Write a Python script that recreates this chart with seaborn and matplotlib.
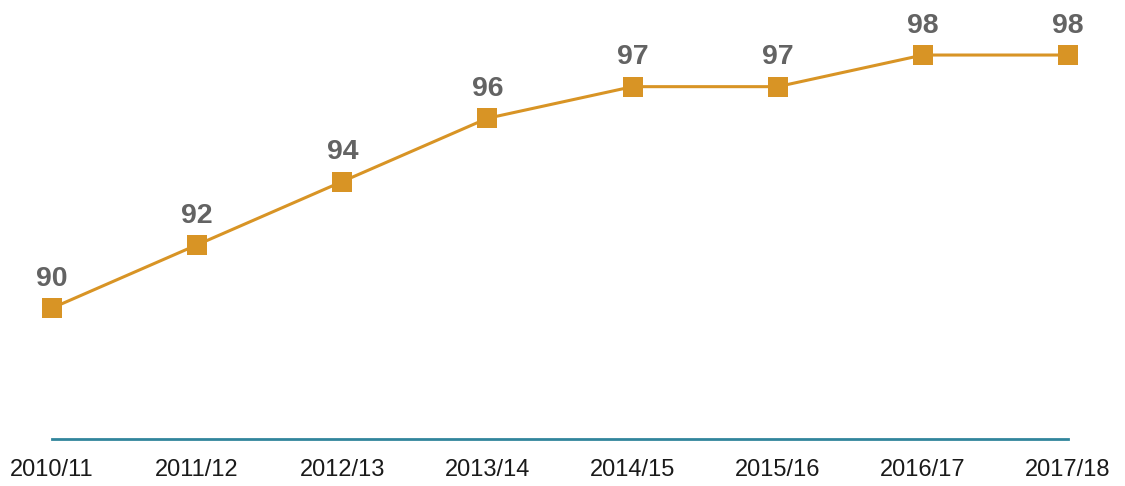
import pandas as pd
import seaborn as sns
import matplotlib.pyplot as plt

# data
seasons = ["2010/11", "2011/12", "2012/13", "2013/14",
           "2014/15", "2015/16", "2016/17", "2017/18"]
values = [90, 92, 94, 96, 97, 97, 98, 98]

df = pd.DataFrame({"season": seasons, "value": values})
df["pos"] = range(len(seasons))

sns.set_style("white")
plt.rcParams["font.family"] = ["Liberation Sans", "DejaVu Sans"]

fig = plt.figure(figsize=(11.25, 4.86), dpi=100)
ax = fig.add_axes([52 / 1125, 47 / 486, (1068 - 52) / 1125, 439 / 486])

sns.lineplot(data=df, x="pos", y="value", ax=ax, color="#D89425",
             linewidth=2.2, marker="s", markersize=14,
             markeredgewidth=0, clip_on=False)

for _, r in df.iterrows():
    ax.annotate(str(r["value"]), (r["pos"], r["value"]),
                xytext=(0, 21), textcoords="offset points",
                ha="center", va="center", fontsize=20.5, fontweight="bold",
                color="#636363")

ax.set_xlim(0, 7)
ax.set_ylim(85.86, 99.74)
ax.set_xticks(df["pos"])
ax.set_xticklabels(seasons, fontsize=17, color="#1a1a1a")
ax.tick_params(axis="x", length=0, pad=14.5)
ax.set_yticks([])
ax.set_xlabel("")
ax.set_ylabel("")
for s in ["top", "left", "right"]:
    ax.spines[s].set_visible(False)
ax.spines["bottom"].set_color("#31859C")
ax.spines["bottom"].set_linewidth(2)

fig.savefig("out.png", dpi=100)
